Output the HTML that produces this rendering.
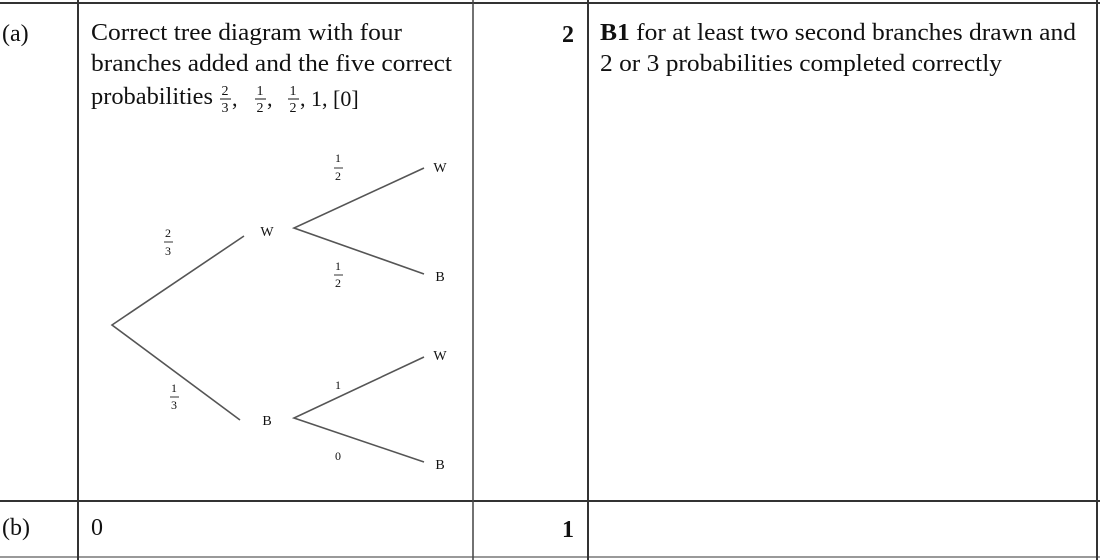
<!DOCTYPE html>
<html><head><style>
html,body{margin:0;padding:0;background:#fff;}
svg{display:block;}
text{font-family:"Liberation Serif",serif;fill:#111;}
</style></head><body>
<svg width="1100" height="560" viewBox="0 0 1100 560" xmlns="http://www.w3.org/2000/svg">
<g stroke="#333" stroke-width="2" fill="none">
<line x1="0" y1="3" x2="1100" y2="3"/>
<line x1="0" y1="501" x2="1100" y2="501"/>
<line x1="0" y1="557" x2="1100" y2="557" stroke="#999"/>
<line x1="78" y1="0" x2="78" y2="560"/>
<line x1="588" y1="0" x2="588" y2="560"/>
<line x1="1097" y1="0" x2="1097" y2="560"/>
</g>
<line x1="473" y1="0" x2="473" y2="560" stroke="#444" stroke-width="1.5"/>
<g font-size="24">
<text x="2" y="41">(a)</text>
<text x="91" y="40" textLength="311" lengthAdjust="spacingAndGlyphs">Correct tree diagram with four</text>
<text x="91" y="71" textLength="361" lengthAdjust="spacingAndGlyphs">branches added and the five correct</text>
<text x="91" y="104" textLength="122" lengthAdjust="spacingAndGlyphs">probabilities</text>
<text x="2" y="535">(b)</text>
<text x="91" y="535">0</text>
<text x="562" y="42" font-weight="bold">2</text>
<text x="562" y="537" font-weight="bold">1</text>
<text x="600" y="40" textLength="476" lengthAdjust="spacingAndGlyphs"><tspan font-weight="bold">B1</tspan> for at least two second branches drawn and</text>
<text x="600" y="71" textLength="402" lengthAdjust="spacingAndGlyphs">2 or 3 probabilities completed correctly</text>
</g>
<g font-size="14" text-anchor="middle">
<text x="225" y="95">2</text><line x1="220" y1="99" x2="231" y2="99" stroke="#111"/><text x="225" y="112">3</text>
<text x="260" y="95">1</text><line x1="255" y1="99" x2="266" y2="99" stroke="#111"/><text x="260" y="112">2</text>
<text x="293" y="95">1</text><line x1="288" y1="99" x2="299" y2="99" stroke="#111"/><text x="293" y="112">2</text>
</g>
<g font-size="22">
<text x="232" y="106">,</text>
<text x="267" y="106">,</text>
<text x="300" y="106">, 1, [0]</text>
</g>
<g stroke="#555" stroke-width="1.6" fill="none">
<polyline points="244,236 112,325 240,420"/>
<polyline points="424,168 294,228 424,274"/>
<polyline points="424,357 294,418 424,462"/>
</g>
<g font-size="14" text-anchor="middle" fill="#222">
<text x="267" y="236">W</text>
<text x="267" y="425">B</text>
<text x="440" y="172">W</text>
<text x="440" y="281">B</text>
<text x="440" y="360">W</text>
<text x="440" y="469">B</text>
<text x="338" y="162" font-size="12">1</text><line x1="334" y1="168" x2="343" y2="168" stroke="#333"/><text x="338" y="180" font-size="12">2</text>
<text x="338" y="270" font-size="12">1</text><line x1="334" y1="275" x2="343" y2="275" stroke="#333"/><text x="338" y="287" font-size="12">2</text>
<text x="168" y="237" font-size="12">2</text><line x1="164" y1="242" x2="173" y2="242" stroke="#333"/><text x="168" y="255" font-size="12">3</text>
<text x="174" y="392" font-size="12">1</text><line x1="170" y1="397" x2="179" y2="397" stroke="#333"/><text x="174" y="409" font-size="12">3</text>
<text x="338" y="389" font-size="12">1</text>
<text x="338" y="460" font-size="12">0</text>
</g>
</svg>
</body></html>
